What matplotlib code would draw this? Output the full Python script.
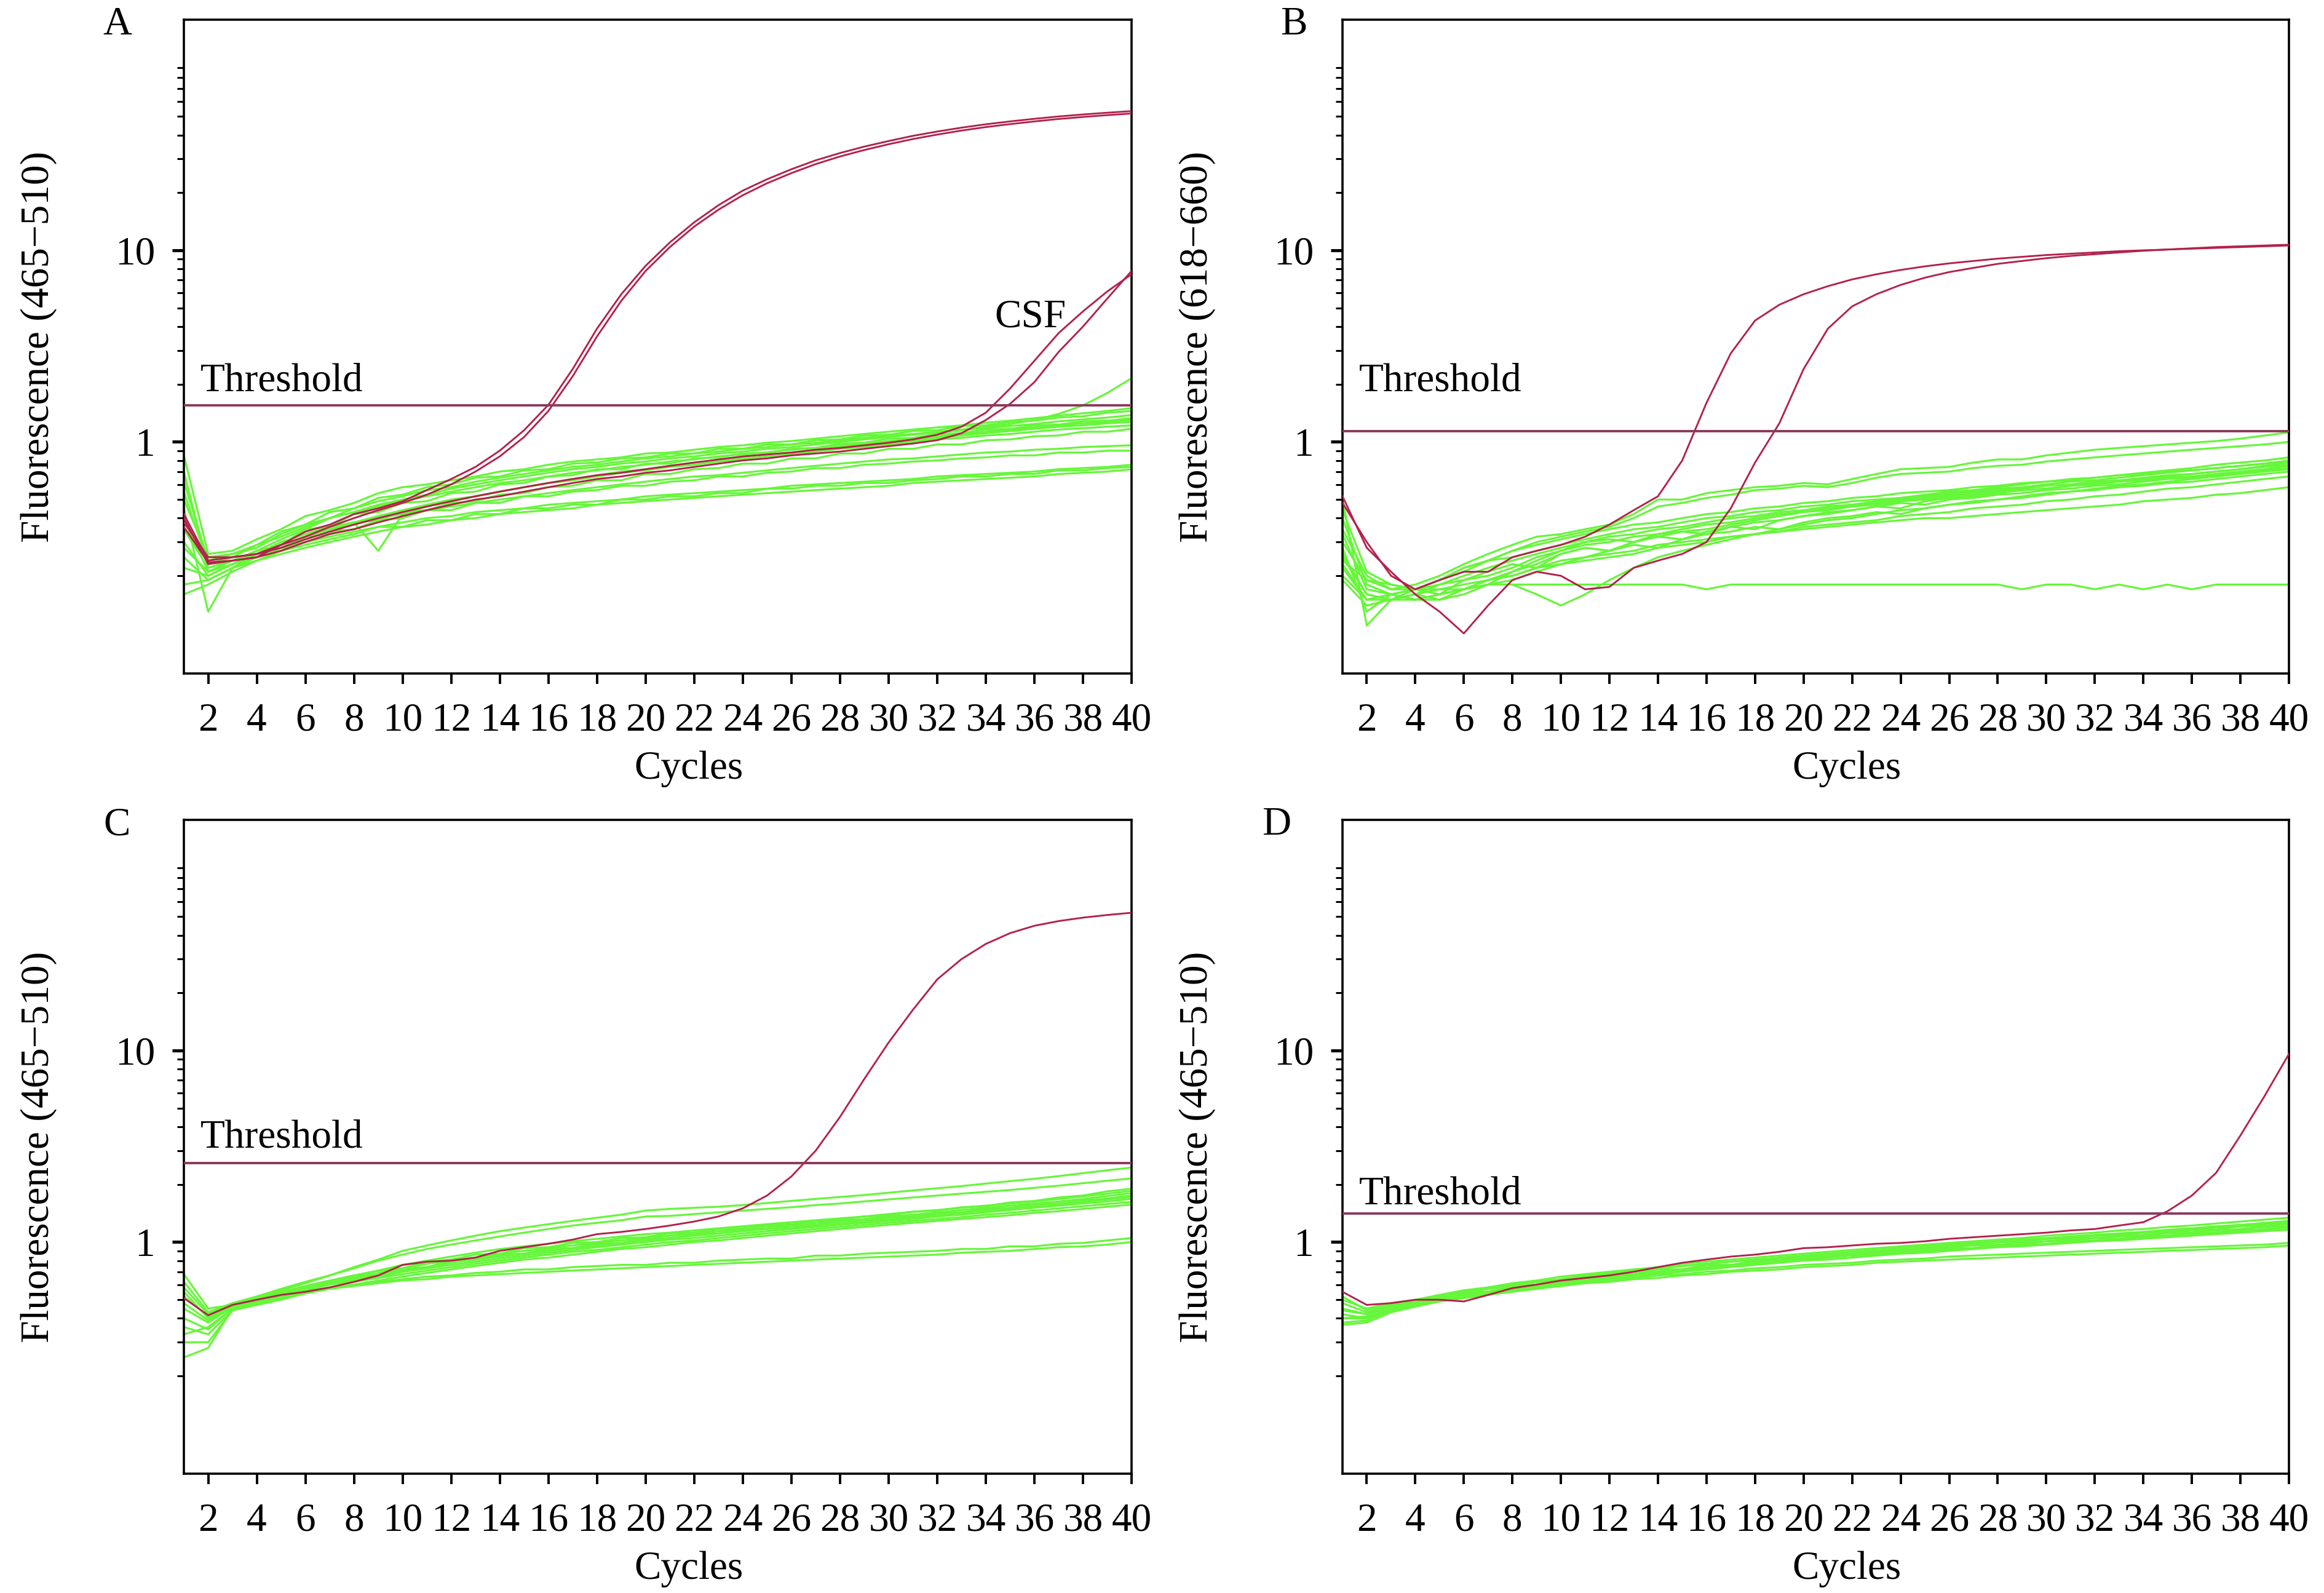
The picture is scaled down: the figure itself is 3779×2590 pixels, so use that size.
import numpy as np
import matplotlib
matplotlib.use("Agg")
import matplotlib.pyplot as plt
from matplotlib.ticker import FixedLocator, FixedFormatter, NullFormatter

plt.rcParams['font.family'] = ['Liberation Serif', 'DejaVu Serif']

GREEN = '#66f63a'
RED = '#b3224c'
THRESH = '#8b3a5c'
FS = 47

cycles = np.arange(1, 41)

# ---------------- panel A (465-510) ----------------
a_threshold = 1.553
a_red = [
    [0.36, 0.235, 0.24, 0.25, 0.29, 0.34, 0.37, 0.42, 0.45, 0.49, 0.56, 0.64, 0.74, 0.90, 1.15, 1.56, 2.40, 3.90, 5.90, 8.30,
     11.0, 14.0, 17.2, 20.5, 23.5, 26.5, 29.5, 32.2, 34.8, 37.2, 39.6, 41.7, 43.7, 45.5, 47.1, 48.6, 50.0, 51.2, 52.3, 53.3],
    [0.38, 0.25, 0.25, 0.26, 0.29, 0.32, 0.36, 0.40, 0.44, 0.48, 0.53, 0.60, 0.70, 0.84, 1.06, 1.45, 2.20, 3.55, 5.45, 7.80,
     10.4, 13.3, 16.3, 19.4, 22.4, 25.3, 28.2, 30.9, 33.4, 35.8, 38.1, 40.2, 42.2, 44.0, 45.6, 47.1, 48.5, 49.7, 50.8, 51.8],
]
a_csf = [
    [0.42, 0.24, 0.25, 0.26, 0.28, 0.31, 0.34, 0.37, 0.40, 0.43, 0.46, 0.49, 0.52, 0.55, 0.58, 0.61, 0.64, 0.67, 0.69, 0.72,
     0.75, 0.78, 0.81, 0.84, 0.86, 0.88, 0.91, 0.93, 0.96, 0.99, 1.03, 1.09, 1.20, 1.42, 1.90, 2.65, 3.70, 4.80, 6.10, 7.50],
    [0.40, 0.23, 0.24, 0.25, 0.27, 0.30, 0.33, 0.35, 0.38, 0.41, 0.44, 0.47, 0.50, 0.52, 0.55, 0.58, 0.61, 0.64, 0.66, 0.69,
     0.71, 0.74, 0.77, 0.80, 0.82, 0.85, 0.87, 0.89, 0.92, 0.95, 0.98, 1.02, 1.11, 1.30, 1.58, 2.05, 2.95, 4.00, 5.60, 7.80],
]
a_green = [
    [0.62, 0.24, 0.26, 0.28, 0.33, 0.37, 0.40, 0.45, 0.49, 0.52, 0.56, 0.58, 0.62, 0.65, 0.68, 0.71, 0.74, 0.76, 0.79, 0.82,
     0.84, 0.87, 0.89, 0.92, 0.94, 0.97, 0.99, 1.02, 1.05, 1.08, 1.10, 1.13, 1.16, 1.20, 1.24, 1.30, 1.40, 1.55, 1.80, 2.15],
    [0.85, 0.26, 0.27, 0.31, 0.35, 0.41, 0.44, 0.48, 0.54, 0.58, 0.60, 0.63, 0.66, 0.70, 0.72, 0.76, 0.79, 0.81, 0.83, 0.87,
     0.88, 0.91, 0.94, 0.96, 0.99, 1.01, 1.04, 1.07, 1.10, 1.13, 1.16, 1.19, 1.22, 1.26, 1.29, 1.33, 1.37, 1.41, 1.45, 1.50],
    [0.55, 0.23, 0.25, 0.29, 0.34, 0.37, 0.43, 0.45, 0.51, 0.53, 0.58, 0.60, 0.65, 0.66, 0.71, 0.72, 0.77, 0.78, 0.82, 0.83,
     0.87, 0.87, 0.92, 0.92, 0.97, 0.97, 1.02, 1.03, 1.08, 1.09, 1.14, 1.15, 1.21, 1.22, 1.27, 1.29, 1.34, 1.36, 1.42, 1.45],
    [0.70, 0.22, 0.24, 0.27, 0.31, 0.35, 0.40, 0.43, 0.47, 0.50, 0.53, 0.57, 0.60, 0.63, 0.66, 0.69, 0.72, 0.74, 0.77, 0.79,
     0.82, 0.84, 0.87, 0.89, 0.92, 0.94, 0.97, 1.00, 1.03, 1.06, 1.09, 1.12, 1.15, 1.18, 1.21, 1.24, 1.28, 1.31, 1.34, 1.38],
    [0.40, 0.21, 0.24, 0.27, 0.29, 0.35, 0.36, 0.42, 0.43, 0.48, 0.49, 0.54, 0.55, 0.60, 0.61, 0.66, 0.67, 0.72, 0.72, 0.77,
     0.77, 0.82, 0.83, 0.87, 0.88, 0.92, 0.93, 0.98, 0.99, 1.04, 1.05, 1.10, 1.11, 1.16, 1.17, 1.22, 1.23, 1.28, 1.29, 1.33],
    [0.30, 0.20, 0.23, 0.26, 0.30, 0.33, 0.36, 0.38, 0.27, 0.42, 0.46, 0.49, 0.52, 0.55, 0.58, 0.61, 0.64, 0.67, 0.70, 0.72,
     0.75, 0.78, 0.80, 0.83, 0.86, 0.88, 0.91, 0.94, 0.96, 0.99, 1.02, 1.05, 1.08, 1.11, 1.14, 1.17, 1.20, 1.22, 1.25, 1.27],
    [0.45, 0.13, 0.22, 0.25, 0.28, 0.32, 0.35, 0.38, 0.41, 0.44, 0.47, 0.50, 0.52, 0.55, 0.58, 0.61, 0.63, 0.66, 0.69, 0.71,
     0.74, 0.76, 0.79, 0.81, 0.84, 0.86, 0.89, 0.92, 0.94, 0.97, 1.00, 1.03, 1.05, 1.08, 1.10, 1.13, 1.16, 1.18, 1.20, 1.22],
    [0.25, 0.19, 0.22, 0.26, 0.27, 0.32, 0.33, 0.38, 0.39, 0.43, 0.44, 0.48, 0.49, 0.53, 0.54, 0.58, 0.59, 0.63, 0.63, 0.68,
     0.68, 0.72, 0.73, 0.77, 0.77, 0.82, 0.82, 0.87, 0.87, 0.92, 0.92, 0.97, 0.97, 1.02, 1.03, 1.07, 1.08, 1.13, 1.13, 1.17],
    [0.35, 0.22, 0.24, 0.26, 0.29, 0.32, 0.35, 0.37, 0.40, 0.42, 0.44, 0.46, 0.48, 0.50, 0.52, 0.54, 0.56, 0.58, 0.60, 0.62,
     0.64, 0.66, 0.67, 0.69, 0.71, 0.73, 0.75, 0.77, 0.79, 0.81, 0.82, 0.84, 0.86, 0.88, 0.89, 0.91, 0.92, 0.94, 0.95, 0.96],
    [0.28, 0.21, 0.23, 0.26, 0.28, 0.31, 0.34, 0.35, 0.39, 0.40, 0.44, 0.44, 0.48, 0.48, 0.52, 0.52, 0.55, 0.56, 0.59, 0.59,
     0.62, 0.63, 0.66, 0.66, 0.69, 0.70, 0.73, 0.73, 0.76, 0.77, 0.79, 0.80, 0.82, 0.83, 0.85, 0.85, 0.88, 0.88, 0.90, 0.90],
    [0.22, 0.20, 0.23, 0.25, 0.28, 0.30, 0.32, 0.34, 0.36, 0.38, 0.40, 0.41, 0.43, 0.44, 0.45, 0.47, 0.48, 0.49, 0.50, 0.52,
     0.53, 0.54, 0.55, 0.56, 0.57, 0.59, 0.60, 0.61, 0.62, 0.63, 0.64, 0.66, 0.67, 0.68, 0.69, 0.70, 0.72, 0.73, 0.74, 0.76],
    [0.18, 0.19, 0.22, 0.24, 0.27, 0.29, 0.31, 0.33, 0.36, 0.36, 0.39, 0.39, 0.42, 0.42, 0.45, 0.45, 0.47, 0.47, 0.50, 0.50,
     0.52, 0.52, 0.54, 0.54, 0.57, 0.57, 0.59, 0.59, 0.61, 0.61, 0.63, 0.64, 0.66, 0.66, 0.68, 0.68, 0.71, 0.71, 0.73, 0.74],
    [0.16, 0.18, 0.21, 0.24, 0.26, 0.28, 0.30, 0.32, 0.34, 0.36, 0.37, 0.39, 0.40, 0.42, 0.43, 0.44, 0.45, 0.47, 0.48, 0.49,
     0.50, 0.51, 0.52, 0.53, 0.54, 0.55, 0.56, 0.57, 0.58, 0.59, 0.61, 0.62, 0.63, 0.64, 0.65, 0.66, 0.68, 0.69, 0.70, 0.72],
    [0.50, 0.25, 0.26, 0.29, 0.32, 0.36, 0.40, 0.43, 0.46, 0.49, 0.52, 0.55, 0.58, 0.61, 0.63, 0.66, 0.69, 0.71, 0.74, 0.76,
     0.79, 0.81, 0.84, 0.86, 0.88, 0.91, 0.93, 0.96, 0.98, 1.01, 1.04, 1.07, 1.10, 1.13, 1.16, 1.19, 1.22, 1.25, 1.27, 1.30],
]

# ---------------- panel B (618-660) ----------------
b_threshold = 1.137
b_red = [
    [0.48, 0.30, 0.20, 0.17, 0.19, 0.21, 0.21, 0.25, 0.27, 0.29, 0.32, 0.37, 0.44, 0.52, 0.80, 1.60, 2.90, 4.30, 5.20, 5.90,
     6.50, 7.05, 7.50, 7.90, 8.25, 8.55, 8.80, 9.05, 9.25, 9.45, 9.60, 9.75, 9.90, 10.0, 10.1, 10.2, 10.3, 10.4, 10.5, 10.6],
    [0.52, 0.28, 0.21, 0.16, 0.13, 0.10, 0.14, 0.19, 0.21, 0.20, 0.17, 0.175, 0.22, 0.24, 0.26, 0.30, 0.45, 0.78, 1.25, 2.40,
     3.90, 5.10, 5.90, 6.60, 7.20, 7.70, 8.10, 8.50, 8.80, 9.10, 9.35, 9.55, 9.75, 9.95, 10.1, 10.25, 10.4, 10.5, 10.6, 10.7],
]
b_green = [
    [0.35, 0.20, 0.17, 0.18, 0.20, 0.23, 0.26, 0.29, 0.32, 0.33, 0.35, 0.37, 0.42, 0.50, 0.50, 0.54, 0.56, 0.58, 0.59, 0.61,
     0.60, 0.64, 0.68, 0.72, 0.73, 0.74, 0.78, 0.81, 0.81, 0.85, 0.88, 0.91, 0.93, 0.95, 0.97, 0.99, 1.01, 1.04, 1.08, 1.12],
    [0.30, 0.19, 0.17, 0.17, 0.19, 0.22, 0.24, 0.27, 0.30, 0.32, 0.34, 0.36, 0.40, 0.46, 0.48, 0.51, 0.53, 0.56, 0.57, 0.59,
     0.58, 0.61, 0.65, 0.68, 0.69, 0.70, 0.73, 0.75, 0.76, 0.79, 0.81, 0.83, 0.85, 0.87, 0.89, 0.91, 0.93, 0.95, 0.97, 1.00],
    [0.44, 0.21, 0.18, 0.17, 0.19, 0.21, 0.24, 0.25, 0.27, 0.29, 0.31, 0.33, 0.35, 0.36, 0.38, 0.40, 0.41, 0.43, 0.44, 0.46,
     0.47, 0.49, 0.50, 0.51, 0.53, 0.55, 0.56, 0.58, 0.60, 0.62, 0.63, 0.65, 0.67, 0.69, 0.71, 0.73, 0.76, 0.78, 0.80, 0.83],
    [0.25, 0.16, 0.15, 0.16, 0.18, 0.20, 0.22, 0.24, 0.26, 0.28, 0.30, 0.32, 0.33, 0.35, 0.36, 0.38, 0.40, 0.41, 0.43, 0.44,
     0.46, 0.47, 0.49, 0.51, 0.52, 0.54, 0.55, 0.57, 0.58, 0.60, 0.62, 0.63, 0.65, 0.67, 0.69, 0.71, 0.73, 0.75, 0.77, 0.80],
    [0.22, 0.15, 0.16, 0.17, 0.16, 0.19, 0.21, 0.23, 0.22, 0.26, 0.28, 0.27, 0.30, 0.32, 0.31, 0.34, 0.36, 0.35, 0.39, 0.41,
     0.42, 0.44, 0.46, 0.45, 0.49, 0.51, 0.52, 0.54, 0.56, 0.57, 0.59, 0.61, 0.62, 0.64, 0.66, 0.68, 0.70, 0.72, 0.75, 0.78],
    [0.40, 0.18, 0.16, 0.15, 0.16, 0.17, 0.19, 0.21, 0.24, 0.27, 0.30, 0.31, 0.30, 0.33, 0.35, 0.37, 0.38, 0.40, 0.42, 0.43,
     0.45, 0.46, 0.48, 0.50, 0.51, 0.53, 0.54, 0.56, 0.57, 0.59, 0.60, 0.62, 0.63, 0.65, 0.67, 0.68, 0.70, 0.72, 0.74, 0.76],
    [0.28, 0.13, 0.16, 0.17, 0.18, 0.19, 0.20, 0.22, 0.25, 0.27, 0.29, 0.30, 0.32, 0.33, 0.34, 0.35, 0.37, 0.39, 0.41, 0.43,
     0.44, 0.46, 0.47, 0.49, 0.50, 0.52, 0.53, 0.55, 0.56, 0.57, 0.59, 0.60, 0.62, 0.63, 0.65, 0.66, 0.68, 0.70, 0.72, 0.75],
    [0.33, 0.17, 0.16, 0.15, 0.15, 0.16, 0.18, 0.21, 0.23, 0.26, 0.28, 0.27, 0.30, 0.32, 0.34, 0.33, 0.36, 0.38, 0.39, 0.41,
     0.43, 0.44, 0.46, 0.48, 0.47, 0.50, 0.51, 0.53, 0.54, 0.56, 0.57, 0.59, 0.60, 0.62, 0.64, 0.65, 0.67, 0.69, 0.71, 0.73],
    [0.20, 0.15, 0.15, 0.16, 0.15, 0.17, 0.18, 0.18, 0.16, 0.14, 0.16, 0.19, 0.22, 0.25, 0.27, 0.29, 0.31, 0.33, 0.35, 0.37,
     0.39, 0.40, 0.42, 0.44, 0.45, 0.47, 0.49, 0.50, 0.52, 0.54, 0.55, 0.57, 0.59, 0.60, 0.62, 0.64, 0.66, 0.68, 0.70, 0.72],
    [0.26, 0.16, 0.15, 0.16, 0.17, 0.18, 0.19, 0.20, 0.22, 0.24, 0.25, 0.27, 0.29, 0.28, 0.31, 0.33, 0.34, 0.36, 0.35, 0.38,
     0.40, 0.41, 0.43, 0.42, 0.45, 0.47, 0.48, 0.50, 0.51, 0.53, 0.55, 0.56, 0.58, 0.59, 0.61, 0.62, 0.64, 0.66, 0.68, 0.70],
    [0.19, 0.14, 0.15, 0.15, 0.16, 0.17, 0.18, 0.19, 0.21, 0.23, 0.24, 0.25, 0.26, 0.28, 0.29, 0.30, 0.32, 0.33, 0.34, 0.36,
     0.37, 0.38, 0.39, 0.41, 0.42, 0.43, 0.45, 0.46, 0.47, 0.49, 0.50, 0.52, 0.53, 0.55, 0.57, 0.58, 0.60, 0.62, 0.64, 0.66],
    [0.23, 0.15, 0.16, 0.15, 0.16, 0.17, 0.19, 0.20, 0.22, 0.23, 0.25, 0.26, 0.27, 0.29, 0.30, 0.31, 0.32, 0.33, 0.34, 0.35,
     0.36, 0.37, 0.38, 0.39, 0.40, 0.40, 0.41, 0.42, 0.43, 0.44, 0.45, 0.46, 0.47, 0.49, 0.50, 0.51, 0.53, 0.54, 0.56, 0.58],
    [0.24, 0.19, 0.18, 0.17, 0.17, 0.17, 0.18, 0.18, 0.18, 0.18, 0.18, 0.18, 0.18, 0.18, 0.18, 0.17, 0.18, 0.18, 0.18, 0.18,
     0.18, 0.18, 0.18, 0.18, 0.18, 0.18, 0.18, 0.18, 0.17, 0.18, 0.18, 0.17, 0.18, 0.17, 0.18, 0.17, 0.18, 0.18, 0.18, 0.18],
    [0.50, 0.11, 0.15, 0.17, 0.19, 0.22, 0.24, 0.27, 0.29, 0.31, 0.33, 0.35, 0.37, 0.38, 0.40, 0.42, 0.43, 0.45, 0.46, 0.48,
     0.49, 0.51, 0.52, 0.54, 0.55, 0.56, 0.58, 0.59, 0.61, 0.62, 0.64, 0.65, 0.67, 0.68, 0.70, 0.71, 0.73, 0.75, 0.77, 0.79],
]

# ---------------- panel C (465-510) ----------------
c_threshold = 2.58
c_red = [
    [0.51, 0.415, 0.47, 0.50, 0.53, 0.55, 0.58, 0.62, 0.67, 0.76, 0.79, 0.80, 0.83, 0.90, 0.94, 0.98, 1.03, 1.10, 1.13, 1.17,
     1.22, 1.28, 1.36, 1.50, 1.75, 2.20, 3.00, 4.50, 7.10, 11.0, 16.3, 23.5, 30.0, 36.0, 41.0, 44.8, 47.4, 49.4, 51.0, 52.4],
]
c_green = [
    [0.55, 0.40, 0.47, 0.51, 0.56, 0.61, 0.67, 0.74, 0.81, 0.90, 0.96, 1.02, 1.08, 1.14, 1.19, 1.24, 1.29, 1.34, 1.39, 1.46,
     1.49, 1.51, 1.53, 1.56, 1.60, 1.64, 1.68, 1.72, 1.76, 1.81, 1.86, 1.91, 1.96, 2.02, 2.08, 2.14, 2.21, 2.29, 2.37, 2.45],
    [0.62, 0.43, 0.48, 0.52, 0.57, 0.62, 0.67, 0.73, 0.80, 0.86, 0.92, 0.97, 1.02, 1.07, 1.12, 1.17, 1.22, 1.26, 1.30, 1.36,
     1.37, 1.40, 1.43, 1.46, 1.49, 1.52, 1.56, 1.59, 1.63, 1.67, 1.71, 1.75, 1.79, 1.83, 1.87, 1.92, 1.97, 2.03, 2.09, 2.15],
    [0.45, 0.38, 0.46, 0.50, 0.54, 0.58, 0.62, 0.66, 0.71, 0.73, 0.79, 0.81, 0.86, 0.87, 0.93, 0.94, 0.99, 1.00, 1.05, 1.06,
     1.11, 1.12, 1.17, 1.18, 1.23, 1.24, 1.29, 1.31, 1.36, 1.38, 1.44, 1.46, 1.52, 1.54, 1.61, 1.64, 1.71, 1.75, 1.84, 1.90],
    [0.40, 0.35, 0.45, 0.49, 0.53, 0.57, 0.61, 0.65, 0.69, 0.73, 0.77, 0.80, 0.83, 0.87, 0.90, 0.93, 0.96, 0.99, 1.02, 1.05,
     1.08, 1.11, 1.14, 1.17, 1.20, 1.23, 1.26, 1.29, 1.32, 1.36, 1.39, 1.43, 1.47, 1.51, 1.55, 1.59, 1.63, 1.68, 1.74, 1.80],
    [0.68, 0.45, 0.47, 0.50, 0.54, 0.57, 0.61, 0.65, 0.67, 0.73, 0.74, 0.80, 0.81, 0.86, 0.87, 0.92, 0.93, 0.98, 0.99, 1.04,
     1.05, 1.10, 1.11, 1.16, 1.17, 1.22, 1.23, 1.28, 1.29, 1.34, 1.36, 1.41, 1.43, 1.49, 1.51, 1.57, 1.59, 1.65, 1.69, 1.75],
    [0.30, 0.30, 0.44, 0.48, 0.52, 0.56, 0.60, 0.64, 0.67, 0.71, 0.74, 0.78, 0.81, 0.84, 0.87, 0.90, 0.93, 0.96, 0.99, 1.02,
     1.05, 1.08, 1.11, 1.14, 1.17, 1.19, 1.22, 1.25, 1.28, 1.31, 1.35, 1.38, 1.42, 1.46, 1.50, 1.54, 1.58, 1.62, 1.67, 1.72],
    [0.52, 0.41, 0.46, 0.49, 0.53, 0.56, 0.60, 0.63, 0.66, 0.70, 0.73, 0.76, 0.79, 0.82, 0.85, 0.88, 0.91, 0.94, 0.97, 1.00,
     1.03, 1.05, 1.08, 1.11, 1.14, 1.17, 1.20, 1.23, 1.26, 1.29, 1.32, 1.36, 1.39, 1.43, 1.47, 1.51, 1.55, 1.59, 1.63, 1.68],
    [0.25, 0.28, 0.45, 0.48, 0.51, 0.55, 0.58, 0.62, 0.65, 0.68, 0.71, 0.74, 0.77, 0.80, 0.83, 0.86, 0.89, 0.91, 0.94, 0.97,
     1.00, 1.02, 1.05, 1.08, 1.11, 1.14, 1.17, 1.20, 1.23, 1.26, 1.29, 1.32, 1.35, 1.39, 1.42, 1.46, 1.50, 1.54, 1.58, 1.62],
    [0.36, 0.33, 0.44, 0.47, 0.50, 0.54, 0.57, 0.60, 0.63, 0.66, 0.69, 0.72, 0.75, 0.78, 0.81, 0.83, 0.86, 0.89, 0.92, 0.94,
     0.97, 1.00, 1.02, 1.05, 1.08, 1.11, 1.14, 1.17, 1.20, 1.23, 1.26, 1.29, 1.32, 1.35, 1.38, 1.42, 1.45, 1.49, 1.53, 1.57],
    [0.33, 0.36, 0.45, 0.48, 0.51, 0.54, 0.57, 0.60, 0.62, 0.64, 0.66, 0.67, 0.69, 0.70, 0.72, 0.72, 0.74, 0.75, 0.76, 0.76,
     0.78, 0.78, 0.80, 0.81, 0.82, 0.82, 0.85, 0.85, 0.87, 0.88, 0.89, 0.90, 0.92, 0.92, 0.95, 0.95, 0.98, 0.99, 1.02, 1.05],
    [0.48, 0.39, 0.46, 0.49, 0.52, 0.55, 0.57, 0.59, 0.61, 0.63, 0.64, 0.66, 0.67, 0.68, 0.69, 0.70, 0.71, 0.72, 0.73, 0.74,
     0.75, 0.76, 0.77, 0.78, 0.79, 0.80, 0.81, 0.82, 0.83, 0.84, 0.85, 0.86, 0.88, 0.89, 0.90, 0.92, 0.94, 0.95, 0.97, 1.00],
    [0.58, 0.42, 0.47, 0.51, 0.55, 0.59, 0.63, 0.67, 0.71, 0.76, 0.80, 0.84, 0.88, 0.92, 0.95, 0.98, 1.01, 1.04, 1.07, 1.10,
     1.12, 1.15, 1.18, 1.21, 1.24, 1.27, 1.30, 1.33, 1.36, 1.40, 1.44, 1.47, 1.51, 1.55, 1.59, 1.63, 1.68, 1.73, 1.79, 1.85],
]

# ---------------- panel D (465-510) ----------------
d_threshold = 1.405
d_red = [
    [0.55, 0.47, 0.48, 0.50, 0.50, 0.49, 0.53, 0.575, 0.60, 0.63, 0.65, 0.67, 0.70, 0.74, 0.78, 0.81, 0.84, 0.86, 0.89, 0.93,
     0.94, 0.96, 0.98, 0.99, 1.01, 1.04, 1.06, 1.08, 1.10, 1.12, 1.15, 1.17, 1.22, 1.27, 1.45, 1.75, 2.30, 3.60, 5.80, 9.60],
]
d_green = [
    [0.50, 0.45, 0.48, 0.50, 0.53, 0.56, 0.58, 0.61, 0.63, 0.66, 0.68, 0.70, 0.72, 0.74, 0.77, 0.79, 0.81, 0.83, 0.85, 0.87,
     0.89, 0.91, 0.93, 0.95, 0.97, 0.99, 1.01, 1.03, 1.05, 1.08, 1.10, 1.12, 1.15, 1.17, 1.20, 1.22, 1.25, 1.28, 1.31, 1.34],
    [0.45, 0.42, 0.46, 0.49, 0.52, 0.54, 0.57, 0.60, 0.62, 0.64, 0.67, 0.69, 0.71, 0.73, 0.75, 0.77, 0.79, 0.81, 0.83, 0.85,
     0.87, 0.89, 0.91, 0.93, 0.95, 0.97, 0.99, 1.01, 1.03, 1.05, 1.07, 1.09, 1.11, 1.13, 1.16, 1.18, 1.21, 1.23, 1.26, 1.29],
    [0.42, 0.40, 0.45, 0.48, 0.51, 0.54, 0.55, 0.59, 0.60, 0.64, 0.64, 0.68, 0.68, 0.72, 0.72, 0.76, 0.76, 0.80, 0.80, 0.84,
     0.84, 0.88, 0.88, 0.92, 0.92, 0.96, 0.96, 1.00, 1.00, 1.04, 1.04, 1.08, 1.08, 1.12, 1.12, 1.16, 1.16, 1.21, 1.21, 1.25],
    [0.40, 0.41, 0.44, 0.47, 0.50, 0.53, 0.55, 0.58, 0.60, 0.62, 0.64, 0.66, 0.68, 0.70, 0.72, 0.74, 0.76, 0.78, 0.80, 0.82,
     0.84, 0.86, 0.88, 0.90, 0.92, 0.94, 0.96, 0.97, 0.99, 1.01, 1.03, 1.05, 1.07, 1.09, 1.11, 1.13, 1.15, 1.17, 1.20, 1.22],
    [0.48, 0.43, 0.46, 0.49, 0.51, 0.55, 0.55, 0.59, 0.60, 0.64, 0.64, 0.68, 0.68, 0.72, 0.72, 0.76, 0.75, 0.79, 0.79, 0.83,
     0.83, 0.86, 0.86, 0.90, 0.90, 0.93, 0.93, 0.97, 0.97, 1.01, 1.01, 1.05, 1.04, 1.08, 1.08, 1.12, 1.12, 1.16, 1.16, 1.19],
    [0.38, 0.39, 0.44, 0.47, 0.49, 0.52, 0.54, 0.56, 0.58, 0.60, 0.62, 0.64, 0.66, 0.68, 0.70, 0.72, 0.74, 0.76, 0.78, 0.80,
     0.81, 0.83, 0.85, 0.87, 0.88, 0.90, 0.92, 0.94, 0.95, 0.97, 0.99, 1.01, 1.02, 1.04, 1.06, 1.08, 1.10, 1.12, 1.14, 1.16],
    [0.44, 0.42, 0.45, 0.48, 0.50, 0.52, 0.54, 0.56, 0.58, 0.60, 0.62, 0.63, 0.65, 0.67, 0.68, 0.70, 0.71, 0.73, 0.74, 0.76,
     0.77, 0.78, 0.80, 0.81, 0.82, 0.84, 0.85, 0.86, 0.87, 0.88, 0.89, 0.90, 0.91, 0.92, 0.93, 0.94, 0.95, 0.96, 0.97, 0.99],
    [0.40, 0.40, 0.44, 0.47, 0.49, 0.51, 0.53, 0.55, 0.57, 0.59, 0.61, 0.62, 0.64, 0.65, 0.67, 0.68, 0.70, 0.71, 0.72, 0.74,
     0.75, 0.76, 0.78, 0.79, 0.80, 0.81, 0.82, 0.83, 0.84, 0.85, 0.86, 0.87, 0.88, 0.89, 0.90, 0.91, 0.92, 0.93, 0.94, 0.96],
    [0.52, 0.44, 0.47, 0.49, 0.52, 0.55, 0.57, 0.59, 0.62, 0.64, 0.66, 0.68, 0.70, 0.73, 0.75, 0.77, 0.79, 0.81, 0.82, 0.84,
     0.86, 0.88, 0.90, 0.92, 0.94, 0.96, 0.98, 1.00, 1.02, 1.04, 1.06, 1.08, 1.10, 1.12, 1.14, 1.16, 1.19, 1.21, 1.24, 1.27],
    [0.37, 0.38, 0.43, 0.46, 0.49, 0.51, 0.54, 0.57, 0.59, 0.61, 0.63, 0.65, 0.67, 0.69, 0.71, 0.73, 0.75, 0.77, 0.79, 0.81,
     0.83, 0.85, 0.86, 0.88, 0.90, 0.91, 0.93, 0.95, 0.96, 0.98, 1.00, 1.02, 1.04, 1.06, 1.08, 1.10, 1.12, 1.14, 1.17, 1.20],
]

ylabels = ['Fluorescence (465\u2212510)', 'Fluorescence (618\u2212660)',
           'Fluorescence (465\u2212510)', 'Fluorescence (465\u2212510)']
letters = ['A', 'B', 'C', 'D']
x_ticks = list(range(2, 41, 2))
y_major = [1, 10]
y_minor = [0.2, 0.3, 0.4, 0.5, 0.6, 0.7, 0.8, 0.9,
           2, 3, 4, 5, 6, 7, 8, 9,
           20, 30, 40, 50, 60, 70, 80, 90]

W, H = 3780, 2590
fig = plt.figure(figsize=(W / 100, H / 100), dpi=100)
fig.patch.set_facecolor('white')

# axes boxes in pixels: left, top, width, height
boxes = [(299, 32, 1541, 1063), (2183, 32, 1539, 1063),
         (299, 1333, 1541, 1063), (2183, 1333, 1539, 1063)]
letter_pos = [(167, 56), (2082, 56), (168, 1357), (2052, 1357)]

panels = [
    (a_green, a_red + a_csf, a_threshold, 1.85),
    (b_green, b_red, b_threshold, 1.84),
    (c_green, c_red, c_threshold, 3.13),
    (d_green, d_red, d_threshold, 1.585),
]

for i, (greens, reds, thr, ty) in enumerate(panels):
    l, t, w, h = boxes[i]
    ax = fig.add_axes([l / W, 1 - (t + h) / H, w / W, h / H])
    for g in greens:
        ax.plot(cycles, g, color=GREEN, lw=2.3, zorder=2)
    for r in reds:
        ax.plot(cycles, r, color=RED, lw=2.1, zorder=3)
    ax.axhline(thr, color=THRESH, lw=2.8, zorder=4)
    ax.text(1.68, ty, 'Threshold', fontsize=FS, ha='left', va='baseline', zorder=5)

    ax.set_yscale('log')
    ax.set_xlim(1, 40)
    ax.set_ylim(0.0618, 160)
    ax.yaxis.set_major_locator(FixedLocator(y_major))
    ax.yaxis.set_major_formatter(FixedFormatter(['1', '10']))
    ax.yaxis.set_minor_locator(FixedLocator(y_minor))
    ax.yaxis.set_minor_formatter(NullFormatter())
    ax.set_xticks(x_ticks)
    ax.set_xticklabels([str(v) for v in x_ticks])

    ax.tick_params(axis='y', which='major', direction='out', length=13.7, width=3.6,
                   pad=20, labelsize=FS)
    ax.tick_params(axis='y', which='minor', direction='out', length=8, width=2.2)
    ax.tick_params(axis='x', which='major', direction='out', length=12, width=2.8,
                   pad=22, labelsize=FS)
    for sp in ax.spines.values():
        sp.set_linewidth(2.6)

    ax.set_xlabel('Cycles', fontsize=FS)
    ax.xaxis.set_label_coords(0.533, -0.118)
    ax.set_ylabel(ylabels[i], fontsize=FS)
    ax.yaxis.set_label_coords(-0.134, 0.5)

    lx, ly = letter_pos[i]
    fig.text(lx / W, 1 - ly / H, letters[i], fontsize=FS, ha='left', va='baseline')

    if i == 0:
        ax.text(34.36, 3.97, 'CSF', fontsize=FS, ha='left', va='baseline', zorder=5)

fig.savefig('out.png', dpi=100, facecolor='white')
